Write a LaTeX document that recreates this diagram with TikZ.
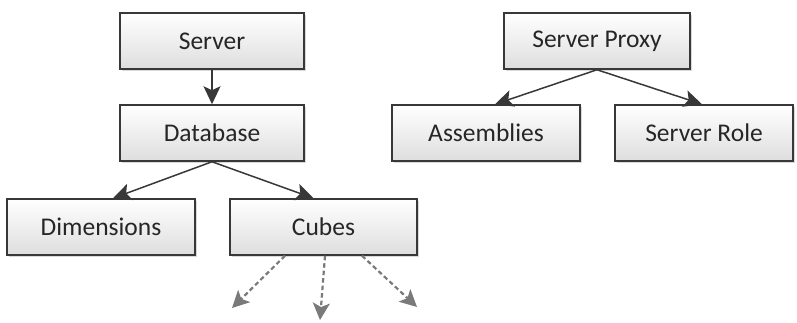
\documentclass[tikz,border=0pt]{standalone}
\usepackage{fontspec}
\setmainfont{Carlito}
\usetikzlibrary{arrows.meta,shadows,calc}
\definecolor{bordc}{HTML}{383838}
\definecolor{txtc}{HTML}{262626}
\definecolor{dashc}{HTML}{7a7a7a}
\tikzset{
  box/.style={draw=bordc, line width=1.5pt, top color=white, bottom color=black!13,
    inner sep=0pt, minimum height=56pt, text=txtc,
    font=\fontsize{25.5}{30}\selectfont,
    drop shadow={shadow xshift=1.5pt, shadow yshift=-1.5pt, fill=black!25, opacity=0.6}},
  conn/.style={draw=bordc, line width=1.5pt, -{Stealth[length=18pt,width=17pt,inset=4pt]}},
  dconn/.style={draw=dashc, line width=2.2pt, dash pattern=on 4.5pt off 3pt,
    -{Stealth[length=17pt,width=17pt,inset=4pt,fill=dashc]}}
}
\begin{document}
\begin{tikzpicture}[x=1pt,y=-1pt]
\useasboundingbox (0,0) rectangle (797,322);
\node[box, minimum width=184pt] (server) at (212,41) {Server};
\node[box, minimum width=184pt] (db) at (212,133) {Database};
\node[box, minimum width=188pt] (dim) at (101,227) {Dimensions};
\node[box, minimum width=187pt] (cubes) at (323.5,227) {Cubes};
\node[box, minimum width=186pt] (proxy) at (597,41) {Server Proxy};
\node[box, minimum width=188pt] (asm) at (486,133) {Assemblies};
\node[box, minimum width=178pt] (role) at (704,133) {Server Role};

\coordinate (e1) at (232,308);
\coordinate (e2) at (320,320);
\coordinate (e3) at (417,307);

\draw[conn] (server.south) -- (db.north);
\draw[conn] (db.south) -- ($(dim.north)+(12,0)$);
\draw[conn] (db.south) -- ($(cubes.north)+(-10,0)$);
\draw[conn] (proxy.south) -- ($(asm.north)+(9,0)$);
\draw[conn] (proxy.south) -- ($(role.north)+(-2,0)$);

\draw[dconn] ($(cubes.south)+(-38.5,0)$) -- (e1);
\draw[dconn] ($(cubes.south)+(1.5,0)$) -- (e2);
\draw[dconn] ($(cubes.south)+(38.5,0)$) -- (e3);
\end{tikzpicture}
\end{document}
